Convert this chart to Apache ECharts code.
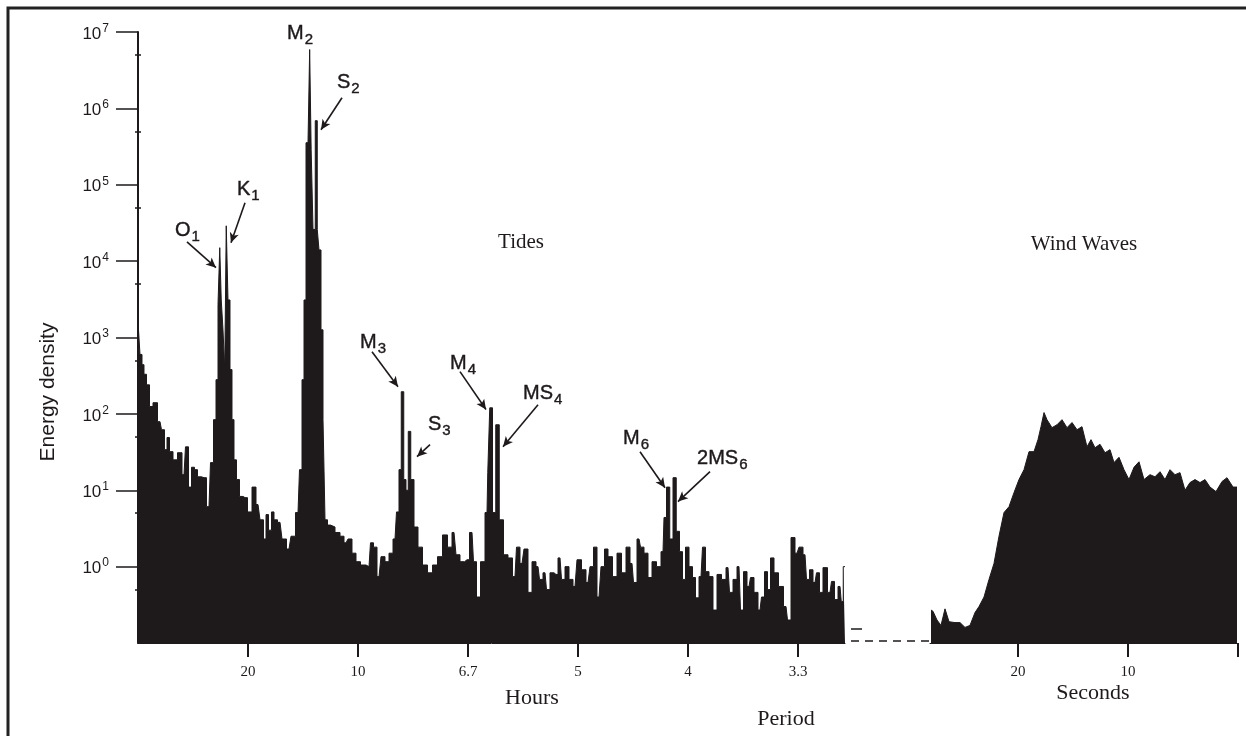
<!DOCTYPE html>
<html><head><meta charset="utf-8">
<script src="https://cdn.jsdelivr.net/npm/echarts@6/dist/echarts.min.js"></script>
<style>html,body{margin:0;padding:0;background:#fff}#c{width:1246px;height:736px}</style>
</head><body><div id="c"></div>
<script>
// ---- Tides: frequency (cycles per hour) and energy density ----
const tideFreq = [
 0, 0.00045, 0.00136, 0.00227, 0.00318, 0.00455, 0.00591, 0.00773, 0.01000, 0.01136,
 0.01273, 0.01364, 0.01500, 0.01682, 0.01909, 0.02091, 0.02227, 0.02364, 0.02500, 0.02636,
 0.02773, 0.03000, 0.03227, 0.03364, 0.03500, 0.03591, 0.03682, 0.03750, 0.03818, 0.03909,
 0.03977, 0.04045, 0.04136, 0.04227, 0.04318, 0.04409, 0.04545, 0.04682, 0.04864, 0.05091,
 0.05273, 0.05455, 0.05636, 0.05773, 0.05864, 0.06000, 0.06136, 0.06227, 0.06455, 0.06636,
 0.06864, 0.07045, 0.07273, 0.07409, 0.07500, 0.07591, 0.07682, 0.07773, 0.07832, 0.07909,
 0.08000, 0.08114, 0.08182, 0.08273, 0.08364, 0.08455, 0.08545, 0.08682, 0.08818, 0.09091,
 0.09273, 0.09455, 0.09636, 0.09818, 0.10000, 0.10227, 0.10500, 0.10636, 0.10773, 0.10955,
 0.11136, 0.11318, 0.11500, 0.11682, 0.11818, 0.11909, 0.12023, 0.12136, 0.12227, 0.12341,
 0.12455, 0.12636, 0.12818, 0.13045, 0.13273, 0.13500, 0.13727, 0.13955, 0.14182, 0.14364,
 0.14545, 0.14727, 0.14955, 0.15182, 0.15318, 0.15455, 0.15682, 0.15864, 0.15932, 0.16045,
 0.16182, 0.16341, 0.16500, 0.16727, 0.16909, 0.17136, 0.17273, 0.17455, 0.17636, 0.17818,
 0.18000, 0.18182, 0.18318, 0.18500, 0.18636, 0.18818, 0.19000, 0.19182, 0.19318, 0.19500,
 0.19682, 0.19864, 0.20045, 0.20273, 0.20455, 0.20636, 0.20773, 0.20955, 0.21136, 0.21273,
 0.21455, 0.21682, 0.21864, 0.22091, 0.22273, 0.22455, 0.22591, 0.22773, 0.22909, 0.23091,
 0.23273, 0.23455, 0.23682, 0.23864, 0.23955, 0.24091, 0.24250, 0.24386, 0.24545, 0.24682,
 0.24818, 0.24955, 0.25136, 0.25273, 0.25409, 0.25591, 0.25727, 0.25864, 0.26045, 0.26227,
 0.26409, 0.26636, 0.26818, 0.26955, 0.27136, 0.27318, 0.27455, 0.27591, 0.27773, 0.27909,
 0.28091, 0.28273, 0.28409, 0.28545, 0.28682, 0.28818, 0.29000, 0.29227, 0.29455, 0.29591,
 0.29773, 0.29955, 0.30136, 0.30318, 0.30455, 0.30591, 0.30773, 0.30909, 0.31045, 0.31227,
 0.31455, 0.31591, 0.31727, 0.31909, 0.32023, 0.32091, 0.32136
];
const tideEnergy = [
 2700, 1260, 600, 440, 330, 240, 125, 140, 79, 62,
 34, 49, 32, 25, 31, 16, 37, 11, 20, 18.6,
 15, 14.6, 6.1, 23, 84, 280, 2700, 15000, 3100, 1260,
 380, 29000, 3100, 380, 84, 25, 13.8, 8.3, 8.0, 5.2,
 11, 6.5, 4.1, 2.3, 4.8, 3.0, 5.2, 4.1, 3.8, 2.3,
 1.7, 2.5, 5.1, 18.6, 280, 3100, 355000, 355000, 5.9e6, 2.9e5,
 2.6e4, 6.9e5, 2.6e4, 1.4e4, 1260, 84, 4.1, 3.5, 3.3, 2.8,
 2.5, 2.05, 2.3, 1.5, 1.16, 1.05, 1.0, 2.05, 1.8, 0.74,
 1.35, 1.16, 1.5, 2.3, 5.2, 18.6, 195, 13.8, 10, 59,
 13.8, 3.3, 1.8, 1.05, 0.83, 1.05, 1.35, 2.6, 1.8, 2.8,
 1.43, 1.16, 1.23, 2.8, 1.16, 0.40, 1.16, 5.1, 17, 120,
 5.1, 72, 4.1, 1.43, 1.3, 0.74, 1.8, 1.1, 1.7, 0.46,
 1.16, 1.0, 0.68, 0.83, 0.5, 0.83, 0.79, 1.3, 0.68, 1.0,
 0.68, 0.55, 1.23, 0.91, 0.62, 1.0, 1.8, 0.40, 1.0, 1.7,
 1.35, 0.74, 1.5, 0.83, 1.8, 1.1, 0.62, 2.3, 1.8, 1.5,
 0.72, 1.16, 1.0, 1.57, 4.4, 11, 2.3, 14.6, 2.9, 1.57,
 0.68, 1.8, 1.0, 0.72, 0.39, 0.74, 1.8, 0.86, 0.74, 0.27,
 0.79, 0.68, 0.97, 0.46, 0.68, 1.0, 0.27, 0.86, 0.55, 0.72,
 0.46, 0.27, 0.40, 0.86, 0.50, 1.3, 0.83, 0.55, 0.30, 0.20,
 2.4, 1.5, 1.8, 1.43, 0.68, 0.91, 0.62, 0.83, 0.46, 0.97,
 0.46, 0.64, 0.37, 0.55, 0.35, 1.0, 1.0
];
// ---- Wind waves: frequency (Hz) and energy density ----
const windFreq = [
 0.01045, 0.01136, 0.01318, 0.01500, 0.01682, 0.01864, 0.02136, 0.02364, 0.02591, 0.02818,
 0.03045, 0.03227, 0.03455, 0.03682, 0.03909, 0.04136, 0.04364, 0.04591, 0.04818, 0.05045,
 0.05273, 0.05500, 0.05727, 0.05909, 0.06045, 0.06182, 0.06318, 0.06545, 0.06773, 0.07000,
 0.07227, 0.07455, 0.07682, 0.07909, 0.08136, 0.08318, 0.08500, 0.08727, 0.08955, 0.09182,
 0.09364, 0.09591, 0.09818, 0.10045, 0.10273, 0.10500, 0.10727, 0.11000, 0.11227, 0.11455,
 0.11682, 0.11909, 0.12136, 0.12364, 0.12591, 0.12818, 0.13045, 0.13273, 0.13500, 0.13727,
 0.14000, 0.14273, 0.14500, 0.14773, 0.14955
];
const windEnergy = [
 0.27, 0.26, 0.20, 0.17, 0.28, 0.19, 0.185, 0.185, 0.16, 0.17,
 0.25, 0.30, 0.40, 0.68, 1.1, 2.5, 5.1, 6.1, 9.3, 13.8,
 18.6, 32, 32, 46, 68, 104, 84, 66, 72, 84,
 66, 77, 62, 68, 37, 46, 36, 40, 31, 34,
 23, 27, 18.6, 13.8, 20, 23.6, 13.8, 16, 15, 17.5,
 13.8, 18.6, 16, 17, 10, 12.6, 13.8, 12.6, 13.8, 11,
 9.6, 13, 14.6, 11, 11
];
// ---- Axes ----
const tideTickFreq = [0.05, 0.10, 0.15, 0.20, 0.25, 0.30];
const tideTickLabels = ['20', '10', '6.7', '5', '4', '3.3'];
const windTickFreq = [0.05, 0.10, 0.15];
const windTickLabels = ['20', '10', ''];
const yDecades = [1, 10, 100, 1e3, 1e4, 1e5, 1e6, 1e7];
const yExponents = ['0', '1', '2', '3', '4', '5', '6', '7'];
const yMinorTicks = [0.5, 5, 50, 500, 5e3, 5e4, 5e5, 5e6];
// ---- Tidal constituent labels (anchor at left edge of label) ----
const peakNames   = ['O', 'K', 'M', 'S', 'M', 'S', 'M', 'MS', 'M', '2MS'];
const peakSubs    = ['1', '1', '2', '2', '3', '3', '4', '4', '6', '6'];
const peakLabelF  = [0.01682, 0.04500, 0.06773, 0.09045, 0.10091, 0.13182, 0.14182, 0.17500, 0.22045, 0.25409];
const peakLabelE  = [24300, 83400, 9.2e6, 2.1e6, 830, 70, 440, 178, 46, 25];
// ---- Arrows: from label to peak ----
const arrowFromF = [0.02227, 0.04864, 0.09273, 0.10636, 0.13273, 0.14636, 0.18182, 0.22818, 0.26000];
const arrowFromE = [17900, 58100, 1.38e6, 652, 39.5, 357, 132, 32, 17.5];
const arrowToF   = [0.03545, 0.04227, 0.08318, 0.11818, 0.12682, 0.15818, 0.16591, 0.23955, 0.24545];
const arrowToE   = [8200, 17400, 5.25e5, 227, 27.5, 114, 37.2, 10.8, 7.1];

const INK = '#1e1a1b';
const SERIF = '"Liberation Serif", "Times New Roman", serif';
const SANS = '"Liberation Sans", Arial, sans-serif';
function zip(a, b) { const n = Math.min(a.length, b.length), r = []; for (let i = 0; i < n; i++) r.push([a[i], b[i]]); return r; }
function nearestLabel(vals, labels, v) { let bi = 0; for (let i = 1; i < vals.length; i++) if (Math.abs(vals[i] - v) < Math.abs(vals[bi] - v)) bi = i; return labels[bi]; }

const chart = echarts.init(document.getElementById('c'));
const arrows = arrowFromF.map((f, i) => [{ coord: [f, arrowFromE[i]] }, { coord: [arrowToF[i], arrowToE[i]] }]);
const peakData = peakNames.map((n, i) => ({ value: [peakLabelF[i], peakLabelE[i]], label: { formatter: '{m|' + n + '}{s|' + peakSubs[i] + '}' } }));

const yLab = {
  show: true, customValues: yDecades, margin: 26, color: INK,
  formatter: v => '{b|10}{s|' + yExponents[Math.round(Math.log10(v))] + '}',
  rich: {
    b: { fontSize: 17, fontFamily: SANS, color: INK, lineHeight: 19, padding: [3, 0, 0, 0], verticalAlign: 'top' },
    s: { fontSize: 12, fontFamily: SANS, color: INK, lineHeight: 13, padding: [0, 0, 0, 1], verticalAlign: 'top' }
  }
};

chart.setOption({
  animation: false,
  backgroundColor: '#fff',
  grid: [
    { left: 138, right: 401, top: 32, bottom: 93 },
    { left: 930, right: 8, top: 32, bottom: 93 }
  ],
  xAxis: [
    { type: 'value', gridIndex: 0, min: 0, max: 0.32136,
      axisLine: { show: true, lineStyle: { color: INK, width: 1 } },
      axisTick: { show: true, customValues: tideTickFreq, length: 14, lineStyle: { color: INK, width: 2 } },
      axisLabel: { show: true, customValues: tideTickFreq, margin: 22, fontFamily: SERIF, fontSize: 15, color: INK,
        formatter: v => nearestLabel(tideTickFreq, tideTickLabels, v) },
      splitLine: { show: false } },
    { type: 'value', gridIndex: 1, min: 0.01, max: 0.15,
      axisLine: { show: true, lineStyle: { color: INK, width: 1 } },
      axisTick: { show: true, customValues: windTickFreq, length: 14, lineStyle: { color: INK, width: 2 } },
      axisLabel: { show: true, customValues: windTickFreq, margin: 22, fontFamily: SERIF, fontSize: 15, color: INK,
        formatter: v => nearestLabel(windTickFreq, windTickLabels, v) },
      splitLine: { show: false } }
  ],
  yAxis: [
    { type: 'log', gridIndex: 0, position: 'left', min: 0.1, max: 1e7, offset: 3,
      axisLine: { show: true, lineStyle: { color: INK, width: 2 } },
      axisTick: { show: true, customValues: yDecades, length: 22, lineStyle: { color: INK, width: 1.5 } },
      axisLabel: yLab, splitLine: { show: false }, minorTick: { show: false } },
    { type: 'log', gridIndex: 0, position: 'left', min: 0.1, max: 1e7, offset: 3,
      axisLine: { show: false },
      axisTick: { show: true, inside: true, customValues: yMinorTicks, length: 6, lineStyle: { color: INK, width: 1.5 } },
      axisLabel: { show: false }, splitLine: { show: false } },
    { type: 'log', gridIndex: 1, min: 0.1, max: 1e7, show: false }
  ],
  series: [
    { type: 'line', xAxisIndex: 0, yAxisIndex: 0, data: zip(tideFreq, tideEnergy), step: 'middle',
      symbol: 'none', silent: true, lineStyle: { color: INK, width: 1 },
      areaStyle: { color: INK, opacity: 1, origin: 'start' },
      markLine: { silent: true, symbol: ['none', 'arrow'], symbolSize: [7, 10], animation: false,
        lineStyle: { color: INK, width: 1.6, type: 'solid' }, label: { show: false },
        emphasis: { disabled: true }, data: arrows } },
    { type: 'line', xAxisIndex: 1, yAxisIndex: 2, data: zip(windFreq, windEnergy),
      symbol: 'none', silent: true, lineStyle: { color: INK, width: 1 },
      areaStyle: { color: INK, opacity: 1, origin: 'start' } },
    { type: 'scatter', xAxisIndex: 0, yAxisIndex: 0, symbolSize: 0, silent: true, data: peakData,
      itemStyle: { color: INK, opacity: 1 },
      label: { show: true, position: 'right', distance: 0, color: INK, opacity: 1,
        rich: {
          m: { fontSize: 20, fontFamily: SANS, color: INK, lineHeight: 22, verticalAlign: 'top', textBorderColor: INK, textBorderWidth: 0.4 },
          s: { fontSize: 15, fontFamily: SANS, color: INK, lineHeight: 16, padding: [9, 0, 0, 1], verticalAlign: 'top', textBorderColor: INK, textBorderWidth: 0.4 }
        } } }
  ],
  graphic: [
    { type: 'rect', shape: { x: 8, y: 8, width: 1260, height: 760 }, style: { fill: 'none', stroke: '#222', lineWidth: 3 }, silent: true },
    { type: 'line', shape: { x1: 851, y1: 641, x2: 930, y2: 641 }, style: { stroke: INK, lineWidth: 1.5, lineDash: [8, 6] }, silent: true },
    { type: 'line', shape: { x1: 851, y1: 629, x2: 862, y2: 629 }, style: { stroke: INK, lineWidth: 1.5 }, silent: true },
    { type: 'text', x: 521, y: 242, style: { text: 'Tides', font: '21px ' + SERIF, fill: INK, textAlign: 'center', textVerticalAlign: 'middle' }, silent: true },
    { type: 'text', x: 1084, y: 244, style: { text: 'Wind Waves', font: '21px ' + SERIF, fill: INK, textAlign: 'center', textVerticalAlign: 'middle' }, silent: true },
    { type: 'text', x: 532, y: 698, style: { text: 'Hours', font: '22px ' + SERIF, fill: INK, textAlign: 'center', textVerticalAlign: 'middle' }, silent: true },
    { type: 'text', x: 786, y: 719, style: { text: 'Period', font: '22px ' + SERIF, fill: INK, textAlign: 'center', textVerticalAlign: 'middle' }, silent: true },
    { type: 'text', x: 1093, y: 693, style: { text: 'Seconds', font: '22px ' + SERIF, fill: INK, textAlign: 'center', textVerticalAlign: 'middle' }, silent: true },
    { type: 'text', x: 48, y: 392, rotation: Math.PI / 2, style: { text: 'Energy density', font: '21px ' + SANS, fill: INK, textAlign: 'center', textVerticalAlign: 'middle' }, silent: true }
  ]
});
</script>
</body></html>
